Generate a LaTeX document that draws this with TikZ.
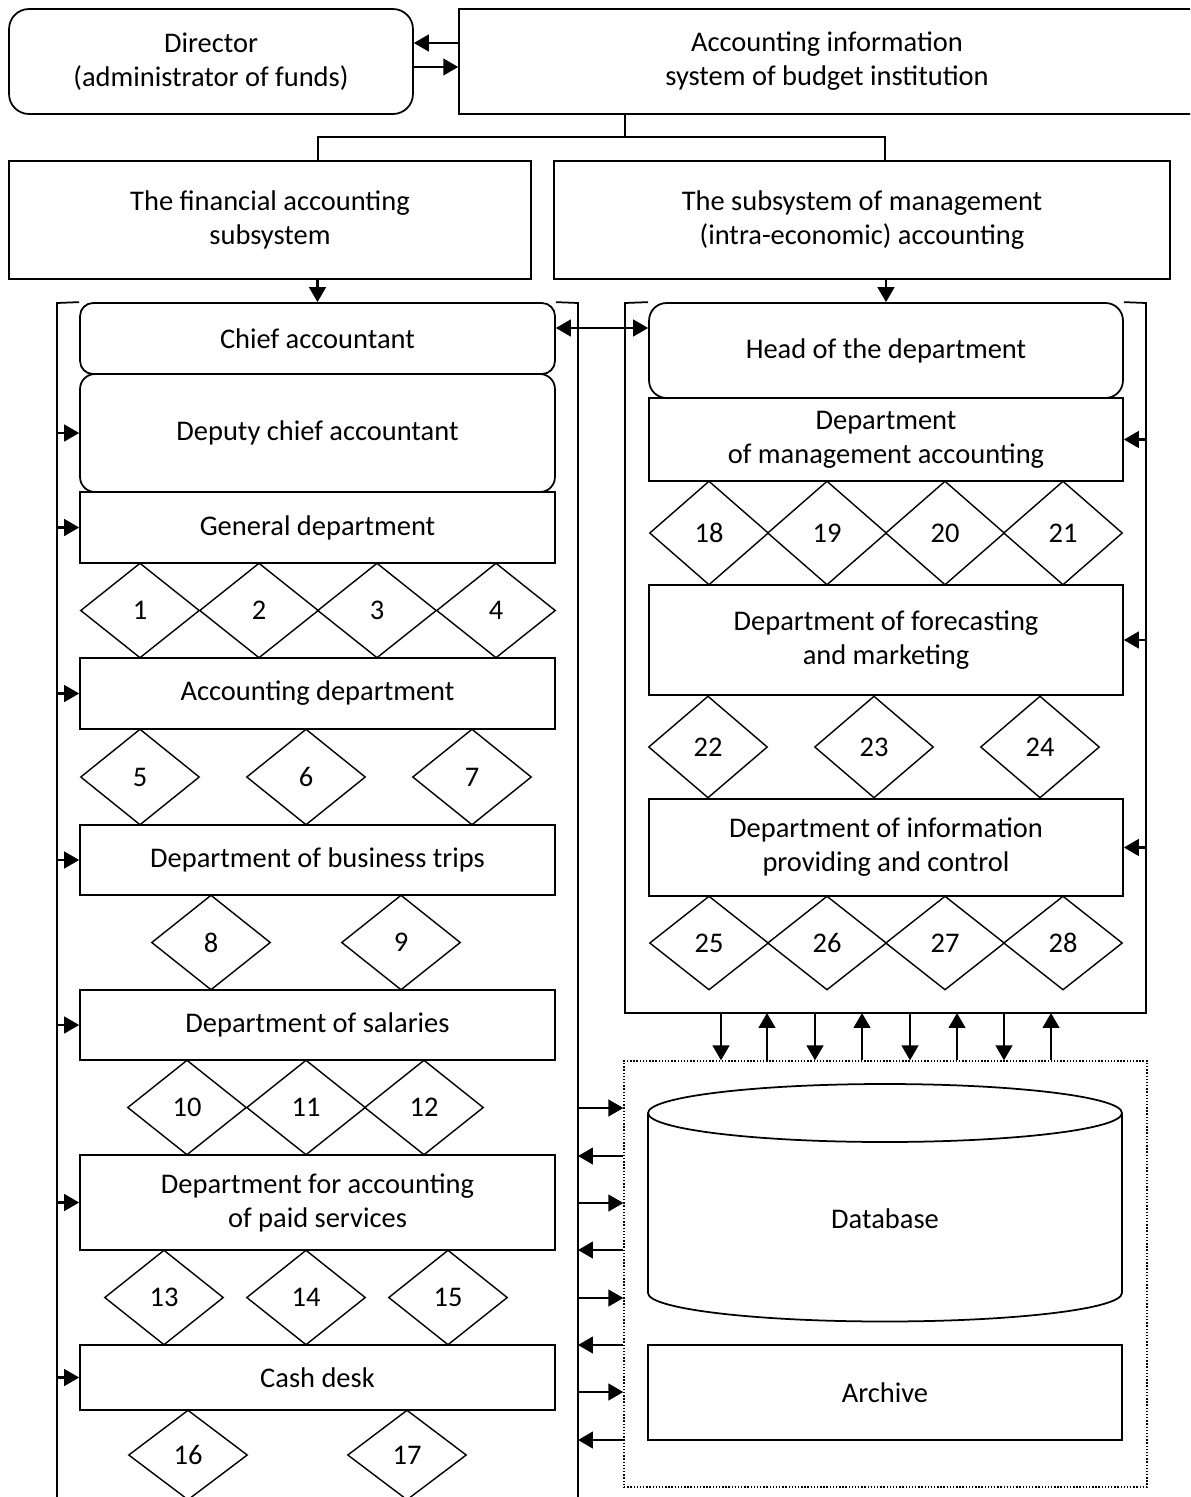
\documentclass[tikz,border=0pt]{standalone}
\usepackage{fontspec}
\setmainfont{Carlito}
\usetikzlibrary{shapes.geometric}
\usetikzlibrary{arrows.meta}
\tikzset{>={Triangle[length=8.5pt,width=9.5pt]}}
\tikzset{
  box/.style={draw, line width=1pt, fill=white, align=center, inner sep=0pt, minimum width=9.5cm},
  rbox/.style={box, rounded corners=0.4cm},
  cell/.style={draw, diamond, line width=0.8pt, inner sep=0pt, minimum width=2.38cm},
  link/.style={line width=1.2pt, ->},
  frame/.style={line width=1pt, sharp corners, line join=miter},
}

\begin{document}
\begin{tikzpicture}[x=0.02cm, y=-0.02cm, every node/.append style={font=\fontsize{16.2}{19.3}\selectfont}]
  \clip (0,0) rectangle (1190,1497);
  % top level
  \node[rbox, minimum width=8.08cm, minimum height=2.1cm] (dir) at (211,61.5) {Director\\(administrator of funds)};
  \node[box, minimum width=14.72cm, minimum height=2.1cm] (ais) at (827,61.5) {Accounting information\\system of budget institution};
  \node[box, minimum width=10.44cm, minimum height=2.36cm] (fin) at (270,220) {The financial accounting\\subsystem};
  \node[box, minimum width=12.32cm, minimum height=2.36cm] (mgm) at (862,220) {The subsystem of management\\(intra-economic) accounting};
  % financial column
  \node[rbox, rounded corners=0.26cm, minimum height=1.42cm] (chief) at (317.5,338.5) {Chief accountant};
  \node[rbox, rounded corners=0.3cm, minimum height=2.36cm] (deputy) at (317.5,433) {Deputy chief accountant};
  \node[box, minimum height=1.42cm] (general) at (317.5,527.5) {General department};
  \node[box, minimum height=1.42cm] (acc) at (317.5,693.5) {Accounting department};
  \node[box, minimum height=1.4cm] (trips) at (317.5,860) {Department of business trips};
  \node[box, minimum height=1.4cm] (salary) at (317.5,1025) {Department of salaries};
  \node[box, minimum height=1.9cm] (paid) at (317.5,1202.5) {Department for accounting\\of paid services};
  \node[box, minimum height=1.3cm] (cash) at (317.5,1377.5) {Cash desk};
  \foreach \n/\x in {1/140,2/259,3/377,4/496}
    \node[cell, minimum height=1.9cm] (c\n) at (\x,610.5) {\n};
  \foreach \n/\x in {5/140,6/306,7/472}
    \node[cell, minimum height=1.92cm] (c\n) at (\x,777) {\n};
  \foreach \n/\x in {8/211,9/401}
    \node[cell, minimum height=1.9cm] (c\n) at (\x,942.5) {\n};
  \foreach \n/\x in {10/187,11/306,12/424}
    \node[cell, minimum height=1.9cm] (c\n) at (\x,1107.5) {\n};
  \foreach \n/\x in {13/164,14/306,15/448}
    \node[cell, minimum height=1.9cm] (c\n) at (\x,1297.5) {\n};
  \foreach \n/\x in {16/188,17/407}
    \node[cell, minimum height=1.8cm] (c\n) at (\x,1455) {\n};
  % management column
  \node[rbox, rounded corners=0.35cm, minimum width=9.48cm, minimum height=1.9cm] (head) at (886,350.5) {Head of the department};
  \node[box, minimum width=9.48cm, minimum height=1.66cm] (mgacc) at (886,439.5) {Department\\of management accounting};
  \node[box, minimum width=9.48cm, minimum height=2.2cm] (forecast) at (886,640) {Department of forecasting\\and marketing};
  \node[box, minimum width=9.48cm, minimum height=1.94cm] (info) at (886,847.5) {Department of information\\providing and control};
  \foreach \n/\x in {18/709,19/827,20/945,21/1063}
    \node[cell, minimum height=2.08cm] (c\n) at (\x,533) {\n};
  \foreach \n/\x in {22/708,23/874,24/1040}
    \node[cell, minimum height=2.04cm] (c\n) at (\x,747) {\n};
  \foreach \n/\x in {25/709,26/827,27/945,28/1063}
    \node[cell, minimum height=1.88cm] (c\n) at (\x,943) {\n};
  % storage
  \node[draw, densely dotted, line width=0.8pt, minimum width=10.46cm, minimum height=8.52cm] (store) at (885.5,1274) {};
  \draw[line width=1pt] (885,1113) ellipse [x radius=4.74cm, y radius=0.58cm];
  \draw[line width=1pt] (648,1113) -- (648,1293) arc[start angle=180, end angle=360, x radius=4.74cm, y radius=0.57cm] -- (1122,1113);
  \node (db) at (885,1219) {Database};
  \node[box, minimum width=9.48cm, minimum height=1.9cm] (archive) at (885,1392.5) {Archive};
  % frames
  \coordinate (finTL) at (57,303);
  \coordinate (finTR) at (578,303);
  \coordinate (mgmTL) at (625,303);
  \coordinate (mgmBR) at (1146,1013);
  \draw[frame] (chief.north west) -- (finTL) -- (57,1500);
  \draw[frame] (chief.north east) -- (finTR) -- (578,1500);
  \draw[frame] (head.north west) -- (mgmTL) -- (625,1013) -- (mgmBR) -- (1146,303) -- (head.north east);
  % connectors
  \coordinate (split) at (625,137);
  \draw[frame] (split |- ais.south) -- (split) -- (318,137) -- (318,0 |- fin.north);
  \draw[frame] (split) -- (885,137) -- (885,0 |- mgm.north);
  \draw[link] (ais.west |- 0,43) -- (dir.east |- 0,43);
  \draw[link] (dir.east |- 0,67) -- (ais.west |- 0,67);
  \draw[link] (chief.north |- fin.south) -- (chief.north);
  \draw[link] (head.north |- mgm.south) -- (head.north);
  \draw[link, <->] (chief.east |- 0,328) -- (head.west |- 0,328);
  \foreach \b in {deputy,general,acc,trips,salary,paid,cash}
    \draw[link] (finTL |- \b.west) -- (\b.west);
  \foreach \b in {mgacc,forecast,info}
    \draw[link] (mgmBR |- \b.east) -- (\b.east);
  \foreach \x in {721,815,910,1004}
    \draw[link] (\x,0 |- mgmBR) -- (\x,0 |- store.north);
  \foreach \x in {767,862,957,1051}
    \draw[link] (\x,0 |- store.north) -- (\x,0 |- mgmBR);
  \foreach \y in {1108,1203,1298,1392}
    \draw[link] (finTR |- 0,\y) -- (store.west |- 0,\y);
  \foreach \y in {1156,1250,1345,1440}
    \draw[link] (store.west |- 0,\y) -- (finTR |- 0,\y);
\end{tikzpicture}
\end{document}
